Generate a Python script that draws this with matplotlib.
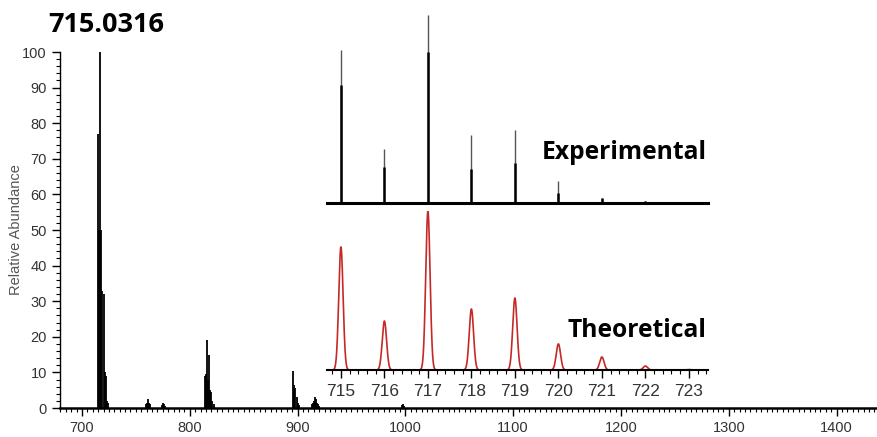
import matplotlib.pyplot as plt
import numpy as np
from matplotlib.ticker import MultipleLocator

# main spectrum (m/z, relative abundance)
main_mz = [715, 716, 717, 718, 719, 720, 721, 722, 723, 724,
           759, 760, 761, 762, 763,
           774, 775, 776, 777,
           814, 815, 816, 817, 818, 819, 820, 821, 822,
           896, 897, 898, 899, 900, 901,
           913, 914, 915, 916, 917, 918, 919, 920,
           997, 998, 999]
main_int = [77, 50, 100, 50, 33, 32, 10, 9, 2, 1.5,
            1, 1.5, 2.5, 1.5, 1,
            0.8, 1.5, 1, 0.5,
            9, 9.5, 19, 8, 15, 5, 4.5, 2, 1,
            10.5, 6.5, 5.5, 3, 1.5, 0.8,
            1, 1.5, 2, 3, 2.5, 1.5, 1, 0.5,
            0.8, 1.2, 0.6]

# isotope pattern, zoomed
iso_mz = [715, 716, 717, 718, 719, 720, 721, 722]
exp_full = [81.4, 28.7, 100, 36.2, 38.8, 11.7, 2.7, 1.0]
exp_core = [62.8, 19.1, 80.3, 18.1, 21.3, 5.3, 2.7, 1.0]
theo_mz = [715, 716, 717, 718, 719, 720, 721, 722, 723]
theo_int = [77.4, 30.8, 100, 38.4, 45.3, 16.4, 8.2, 2.5, 0.3]

fig = plt.figure(figsize=(8.77, 4.37), dpi=100)
lab_font = ['Liberation Sans', 'DejaVu Sans']
big_font = ['Open Sans', 'DejaVu Sans']

# ---- main spectrum ----
ax = fig.add_axes([60/877, 29/437, 817/877, 356/437])
ax.vlines(main_mz, 0, main_int, color='black', lw=1.3, clip_on=False)
ax.set_xlim(679.6, 1437.5)
ax.set_ylim(0, 100)
for s in ['top', 'right']:
    ax.spines[s].set_visible(False)
ax.spines['bottom'].set_linewidth(1.8)
ax.spines['left'].set_linewidth(1.0)
ax.xaxis.set_major_locator(MultipleLocator(100))
ax.xaxis.set_minor_locator(MultipleLocator(5))
ax.yaxis.set_major_locator(MultipleLocator(10))
ax.yaxis.set_minor_locator(MultipleLocator(2))
ax.tick_params(which='major', length=6, width=1, color='black',
               labelsize=10.5, labelcolor='#333333')
ax.tick_params(which='minor', length=3, width=0.8, color='black')
for lab in ax.get_xticklabels() + ax.get_yticklabels():
    lab.set_family(lab_font)
ax.set_ylabel('Relative Abundance', fontsize=10.5, color='#555555',
              family=lab_font)
ax.yaxis.set_label_coords(-37/817, 0.5)
ax.patch.set_alpha(0)

fig.text(48/877, (437-32)/437, '715.0316', fontsize=19.5, fontweight='bold',
         family=big_font, va='baseline')

# ---- experimental inset ----
xl = (714.68, 723.44)
ax_e = fig.add_axes([327/877, (437-203)/437, 381/877, 188/437])
ax_e.vlines(iso_mz, 0, exp_full, color='#555555', lw=1.0)
ax_e.vlines(iso_mz, 0, exp_core, color='black', lw=1.8)
ax_e.set_xlim(*xl)
ax_e.set_ylim(0, 100)
for s in ['top', 'right', 'left']:
    ax_e.spines[s].set_visible(False)
ax_e.spines['bottom'].set_linewidth(2.2)
ax_e.set_xticks([])
ax_e.set_yticks([])
ax_e.patch.set_alpha(0)
ax_e.text(542/877, (437-159)/437, 'Experimental', transform=fig.transFigure,
          fontsize=17.7, fontweight='bold', family=big_font, va='baseline')

# ---- theoretical inset ----
ax_t = fig.add_axes([327/877, (437-370)/437, 381/877, 159/437])
xx = np.linspace(xl[0], xl[1], 3000)
prof = np.zeros_like(xx)
for m, h in zip(theo_mz, theo_int):
    prof = np.maximum(prof, h * np.exp(-0.5 * ((xx - m) / 0.05) ** 2))
ax_t.plot(xx, prof, color='#c62828', lw=1.2)
ax_t.set_xlim(*xl)
ax_t.set_ylim(0, 100)
for s in ['top', 'right', 'left']:
    ax_t.spines[s].set_visible(False)
ax_t.spines['bottom'].set_linewidth(1.5)
ax_t.set_yticks([])
ax_t.xaxis.set_major_locator(MultipleLocator(1))
ax_t.xaxis.set_minor_locator(MultipleLocator(0.2))
ax_t.tick_params(which='major', length=6, width=1, labelsize=12.5,
                 labelcolor='#333333', pad=4)
ax_t.tick_params(which='minor', length=3, width=0.8)
for lab in ax_t.get_xticklabels():
    lab.set_family(['Liberation Sans Narrow', 'Liberation Sans'])
ax_t.patch.set_alpha(0)
ax_t.text(567/877, (437-337)/437, 'Theoretical', transform=fig.transFigure,
          fontsize=17.7, fontweight='bold', family=big_font, va='baseline')

fig.savefig('out.png', dpi=100)
